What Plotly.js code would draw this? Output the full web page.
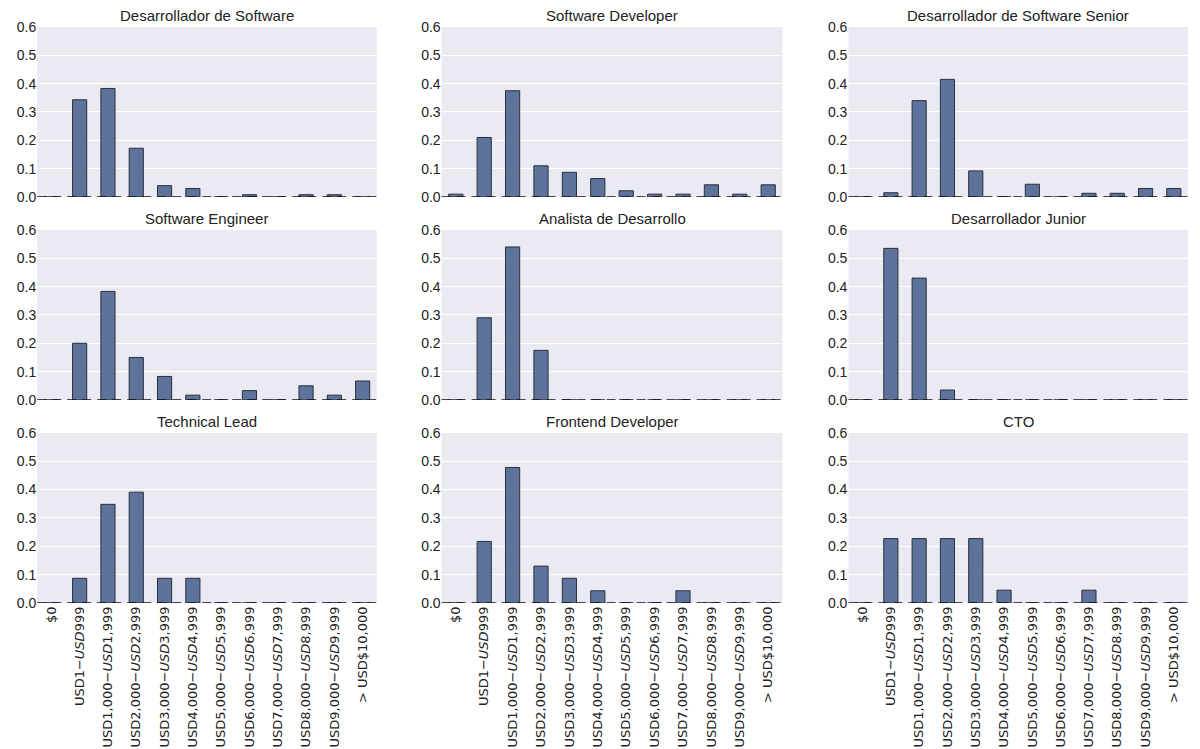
<!DOCTYPE html>
<html>
<head>
<meta charset="utf-8">
<script src="https://cdn.plot.ly/plotly-3.0.1.min.js"></script>
<style>body{margin:0;background:#fff}#chart{width:1200px;height:749px}</style>
</head>
<body>
<div id="chart"></div>
<script>
// salary buckets, matplotlib mangled the "$" into mathtext italics
var categories = ['$0', 'USD1−<i>USD</i>999'];
for (let k = 1; k <= 9; k++) {
    categories.push('USD' + k + ',000−<i>USD</i>' + k + ',999');
}
categories.push('> USD$10,000');

var titles = ['Desarrollador de Software', 'Software Developer', 'Desarrollador de Software Senior',
    'Software Engineer', 'Analista de Desarrollo', 'Desarrollador Junior',
    'Technical Lead', 'Frontend Developer', 'CTO'];

var desarrollador = [0, 0.343, 0.383, 0.172, 0.04, 0.03, 0, 0.008, 0, 0.008, 0.008, 0];
var softwareDev = [0.01, 0.21, 0.375, 0.11, 0.087, 0.065, 0.022, 0.01, 0.01, 0.043, 0.01, 0.043];
var senior = [0, 0.015, 0.34, 0.415, 0.092, 0, 0.045, 0, 0.013, 0.013, 0.03, 0.03];
var engineer = [0, 0.2, 0.383, 0.15, 0.083, 0.017, 0, 0.033, 0, 0.05, 0.017, 0.067];
var analista = [0, 0.29, 0.54, 0.175, 0, 0, 0, 0, 0, 0, 0, 0];
var junior = [0, 0.535, 0.43, 0.035, 0, 0, 0, 0, 0, 0, 0, 0];
var techLead = [0, 0.087, 0.348, 0.391, 0.087, 0.087, 0, 0, 0, 0, 0, 0];
var frontend = [0, 0.217, 0.478, 0.13, 0.087, 0.043, 0, 0, 0.043, 0, 0, 0];
var cto = [0, 0.227, 0.227, 0.227, 0.227, 0.045, 0, 0, 0.045, 0, 0, 0];

var series = [desarrollador, softwareDev, senior, engineer, analista, junior, techLead, frontend, cto];

var colX = [[0.031, 0.314], [0.368, 0.652], [0.707, 0.99]];
var rowY = [[0.737, 0.964], [0.466, 0.693], [0.195, 0.422]];

var traces = [];
var layout = {
    width: 1200, height: 749,
    margin: {l: 0, r: 0, t: 0, b: 0},
    paper_bgcolor: '#ffffff',
    showlegend: false,
    font: {family: 'Liberation Sans, Arial, sans-serif', size: 14, color: '#222'},
    annotations: [],
    shapes: [],
    bargap: 0.5
};

for (let i = 0; i < series.length; i++) {
    let n = i + 1;
    let sfx = n == 1 ? '' : n;
    let row = Math.floor(i / 3), col = i % 3;

    traces.push({
        type: 'bar',
        x: categories,
        y: series[i],
        xaxis: 'x' + sfx,
        yaxis: 'y' + sfx,
        marker: {color: 'rgb(93,115,155)', line: {color: '#2a2f3a', width: 1}},
        width: 0.5
    });

    layout['xaxis' + sfx] = {
        domain: colX[col],
        anchor: 'y' + sfx,
        showgrid: false,
        showticklabels: row == 2,
        tickangle: -90,
        tickfont: {size: 13, family: 'DejaVu Sans, sans-serif'},
        ticks: '',
        zeroline: false,
        fixedrange: true
    };
    layout['yaxis' + sfx] = {
        domain: rowY[row],
        anchor: 'x' + sfx,
        range: [0, 0.6],
        dtick: 0.1,
        tickformat: '.1f',
        gridcolor: '#ffffff',
        gridwidth: 1.2,
        zeroline: false,
        ticks: '',
        tickfont: {size: 14},
        fixedrange: true
    };
    layout.shapes.push({
        type: 'rect', xref: 'x' + sfx + ' domain', yref: 'y' + sfx + ' domain',
        x0: 0, x1: 1, y0: 0, y1: 1, fillcolor: '#eaeaf2', line: {width: 0}, layer: 'below'
    });
    layout.shapes.push({
        type: 'line', xref: 'x' + sfx + ' domain', yref: 'y' + sfx,
        x0: 0, x1: 1, y0: 0, y1: 0, line: {color: '#111', width: 1.5, dash: '9px,6px'}
    });
    layout.annotations.push({
        text: titles[i], showarrow: false,
        xref: 'paper', yref: 'paper',
        x: (colX[col][0] + colX[col][1]) / 2, y: rowY[row][1],
        xanchor: 'center', yanchor: 'bottom', yshift: 1,
        font: {size: 15, color: '#222'}
    });
}

Plotly.newPlot('chart', traces, layout, {displayModeBar: false});
</script>
</body>
</html>
